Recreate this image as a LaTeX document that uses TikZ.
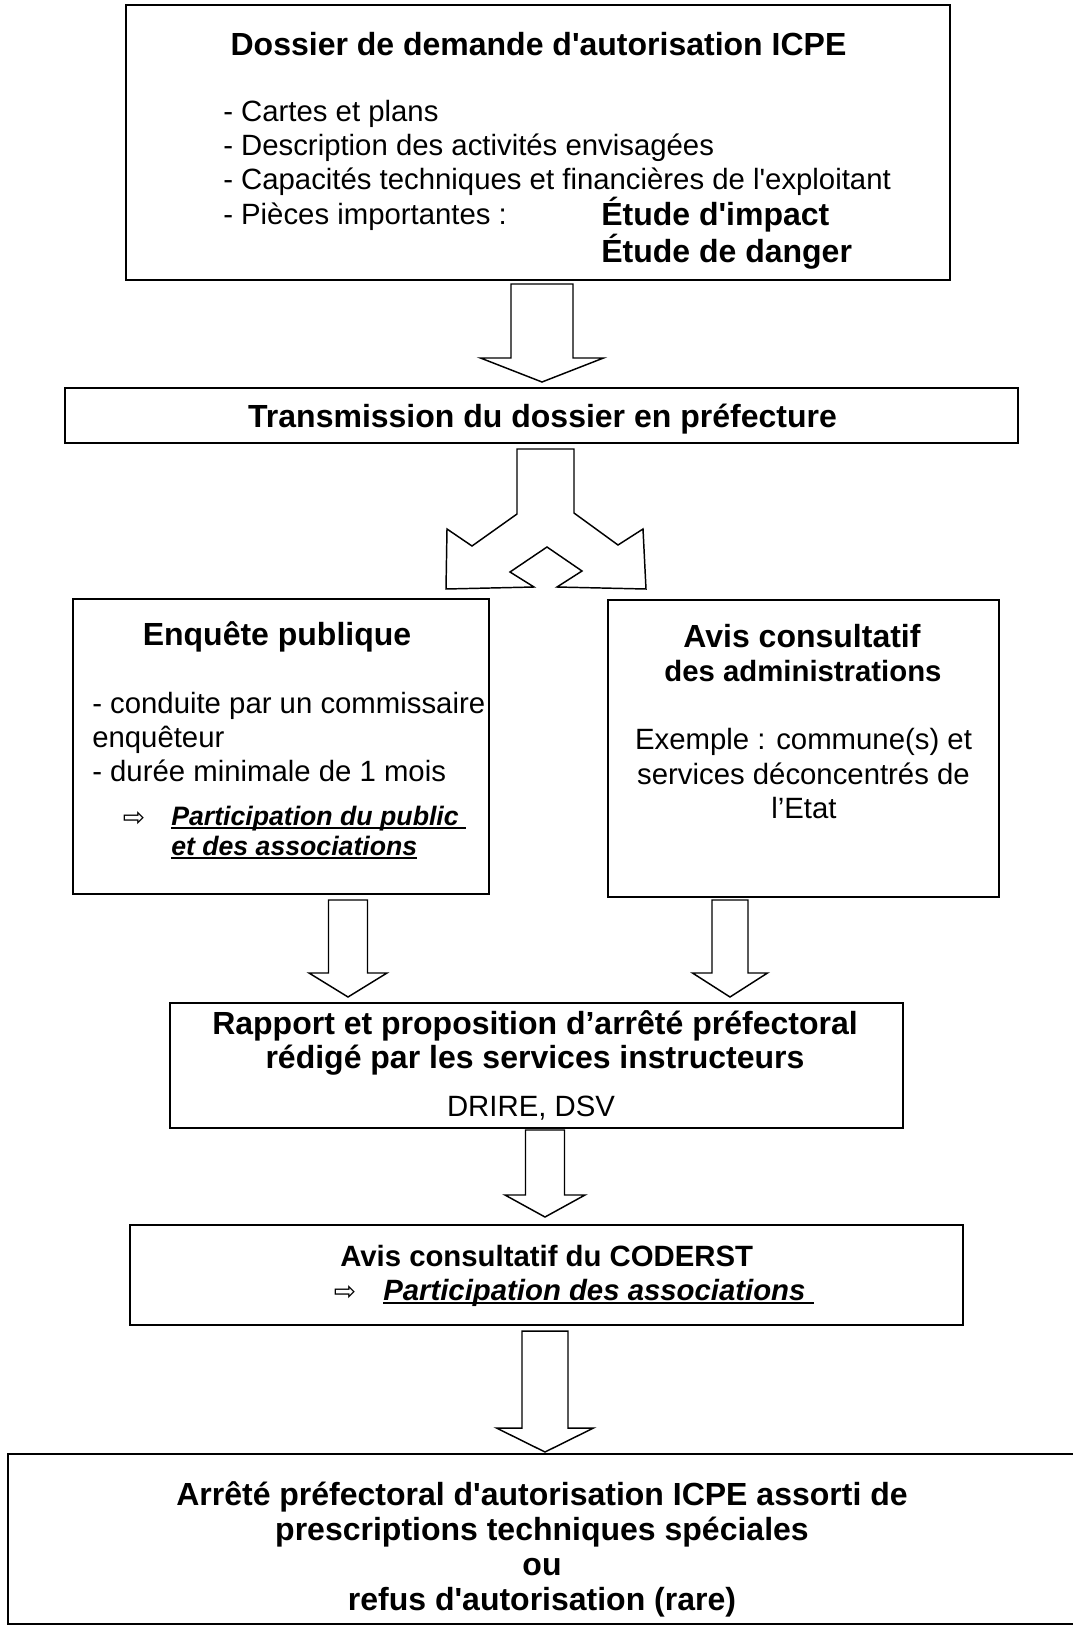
\documentclass[tikz,border=0pt]{standalone}
\usepackage{fontspec}
\setmainfont{Liberation Sans}[Ligatures=TeXOff]
\newfontfamily\flechefont{DejaVu Sans}
\usetikzlibrary{fit}
\newcommand{\fleche}[6]{%
  \draw[blockarrow] (#1-#5,#2) -- (#1-#5,#3) -- (#1-#6,#3) -- (#1,#4)
    -- (#1+#6,#3) -- (#1+#5,#3) -- (#1+#5,#2) -- cycle;}
\newcommand{\puce}{{\flechefont\fontsize{20}{22}\selectfont ⇨}}
\newcommand{\souligne}[1]{\setbox0\hbox{#1}\rlap{\rule[-3pt]{\wd0}{1.4pt}}\box0}
\begin{document}
\begin{tikzpicture}[
        x=0.75pt, y=-0.75pt,
        boite/.style={draw, line width=1.5pt, inner sep=0},
        blockarrow/.style={draw, line width=1.1pt, fill=white},
        titre/.style={font=\bfseries\fontsize{24}{28}\selectfont, inner sep=0},
        sous/.style={font=\bfseries\fontsize{22}{26}\selectfont, inner sep=0},
        texte/.style={font=\fontsize{22}{26}\selectfont, inner sep=0},
        assoc/.style={font=\bfseries\itshape\fontsize{20}{24}\selectfont, inner sep=0}
    ]
    \useasboundingbox (0,0) rectangle (1073,1625);

    \node[boite, fit={(126,5) (950,280)}] (dossier) {};
    \node[titre, anchor=base] (dossiertitre) at (538.5,55) {Dossier de demande d'autorisation ICPE};
    \node[texte, anchor=base west] (cartes) at (223,121) {- Cartes et plans};
    \node[texte, anchor=base west] (description) at (223,155) {- Description des activités envisagées};
    \node[texte, anchor=base west] (capacites) at (223,189) {- Capacités techniques et financières de l'exploitant};
    \node[texte, anchor=base west] (pieces) at (223,224) {- Pièces importantes :};
    \node[titre, anchor=base west] (impact) at (601,225) {Étude d'impact};
    \node[titre, anchor=base west] (danger) at (601,262) {Étude de danger};

    \fleche{542}{284}{358}{382}{31}{61.5}

    \node[boite, fit={(65,388) (1018,443)}] (transmission) {};
    \node[titre, anchor=base] (transmissiontitre) at (542.5,427) {Transmission du dossier en préfecture};

    \draw[blockarrow] (517,449) -- (517,514) -- (472,546) -- (447,529) -- (446,589)
        -- (534,587) -- (510,572) -- (547,547) -- (582,571) -- (557,587)
        -- (646,589) -- (643,529) -- (618,545) -- (574,513) -- (574,449) -- cycle;

    \node[boite, fit={(72.5,599) (489,894)}] (enquete) {};
    \node[titre, anchor=base] (enquetetitre) at (277,645) {Enquête publique};
    \node[texte, anchor=base west] (conduite) at (92,713) {- conduite par un commissaire};
    \node[texte, anchor=base west] (enqueteur) at (92,747) {enquêteur};
    \node[texte, anchor=base west] (duree) at (92,781) {- durée minimale de 1 mois};
    \node[inner sep=0] (pucepublic) at (134,819) {\puce};
    \node[assoc, anchor=base west] (public) at (171,825) {\souligne{Participation du public\ }};
    \node[assoc, anchor=base west] (associations) at (171,855) {\souligne{et des associations}};

    \node[boite, fit={(608,600) (999,897)}] (avis) {};
    \node[titre, anchor=base] (avistitre) at (802,647) {Avis consultatif};
    \node[sous, anchor=base] (administrations) at (803,681) {des administrations};
    \node[texte, anchor=base] (exemple) at (803.5,749) {Exemple : commune(s) et};
    \node[texte, anchor=base] (services) at (803.5,784) {services déconcentrés de};
    \node[texte, anchor=base] (etat) at (804,818) {l’Etat};

    \fleche{348}{900}{973}{997}{19.5}{39}
    \fleche{730}{900}{973}{997}{18}{37.5}

    \node[boite, fit={(170,1003) (903,1128)}] (rapport) {};
    \node[titre, anchor=base] (rapporttitre) at (535,1034) {Rapport et proposition d’arrêté préfectoral};
    \node[titre, anchor=base] (redige) at (535,1068) {rédigé par les services instructeurs};
    \node[texte, anchor=base] (drire) at (531,1116) {DRIRE, DSV};

    \fleche{545}{1130}{1195}{1217}{19.5}{40}

    \node[boite, fit={(130,1225) (963,1325)}] (coderst) {};
    \node[sous, anchor=base west] (coderstitre) at (340,1266) {Avis consultatif du CODERST};
    \node[inner sep=0] (pucecoderst) at (345,1293) {\puce};
    \node[assoc, font=\bfseries\itshape\fontsize{22}{26}\selectfont, anchor=base west] (participation) at (383,1300) {\souligne{Participation des associations\ }};

    \fleche{545}{1331}{1428}{1452}{23}{48.5}

    \node[boite, fit={(8,1454) (1085,1624)}] (arrete) {};
    \node[titre, anchor=base] (arretetitre) at (542,1505) {Arrêté préfectoral d'autorisation ICPE assorti de};
    \node[titre, anchor=base] (prescriptions) at (542,1540) {prescriptions techniques spéciales};
    \node[titre, anchor=base] (ou) at (542,1575) {ou};
    \node[titre, anchor=base] (refus) at (542,1610) {refus d'autorisation (rare)};
\end{tikzpicture}
\end{document}
